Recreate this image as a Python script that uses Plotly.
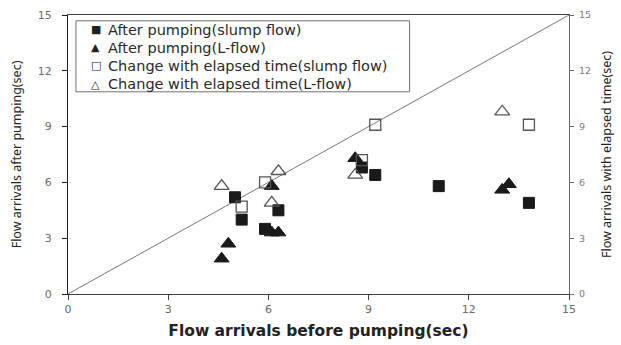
import plotly.graph_objects as go

# Flow arrival times (sec): before pumping (x) vs. after pumping / with elapsed time (y)
slump_after_x = [5.0, 5.2, 5.9, 6.3, 8.8, 9.2, 11.1, 13.8]
slump_after_y = [5.2, 4.0, 3.5, 4.5, 6.8, 6.4, 5.8, 4.9]

lflow_after_x = [4.6, 4.8, 6.1, 6.1, 6.3, 8.6, 13.0, 13.2]
lflow_after_y = [1.9, 2.7, 5.8, 3.3, 3.3, 7.3, 5.6, 5.9]

slump_elapsed_x = [5.2, 5.9, 8.8, 9.2, 13.8]
slump_elapsed_y = [4.7, 6.0, 7.2, 9.1, 9.1]

lflow_elapsed_x = [4.6, 6.1, 6.3, 8.6, 13.0]
lflow_elapsed_y = [5.8, 4.9, 6.6, 6.4, 9.8]

series_names = [
    "After pumping(slump flow)",
    "After pumping(L-flow)",
    "Change with elapsed time(slump flow)",
    "Change with elapsed time(L-flow)",
]
legend_glyphs = ["\u25A0", "\u25B2", "\u25A1", "\u25B3"]

axis_range = [0, 15]
tick_vals = [0, 3, 6, 9, 12, 15]

W, H = 621, 345
ML, MR, MT, MB = 68, 50, 9, 49
PW, PH = W - ML - MR, H - MT - MB


def px_to_paper(px, py):
    return (px - ML) / PW, (H - MB - py) / PH


fig = go.Figure()

# y = x reference line
fig.add_trace(go.Scatter(
    x=axis_range, y=axis_range, mode="lines",
    line=dict(color="#777777", width=1), showlegend=False, hoverinfo="skip"))

dark = "#1a1a1a"
hollow = "#555555"
fig.add_trace(go.Scatter(
    x=slump_after_x, y=slump_after_y, mode="markers", name=series_names[0],
    marker=dict(symbol="square", size=11, color=dark, line=dict(color=dark, width=1))))
fig.add_trace(go.Scatter(
    x=lflow_after_x, y=lflow_after_y, mode="markers", name=series_names[1],
    marker=dict(symbol="triangle-up", size=13, color=dark, line=dict(color=dark, width=1))))
fig.add_trace(go.Scatter(
    x=slump_elapsed_x, y=slump_elapsed_y, mode="markers", name=series_names[2], yaxis="y2",
    marker=dict(symbol="square-open", size=11, color=hollow, line=dict(width=1.3))))
fig.add_trace(go.Scatter(
    x=lflow_elapsed_x, y=lflow_elapsed_y, mode="markers", name=series_names[3], yaxis="y2",
    marker=dict(symbol="triangle-up-open", size=13, color=hollow, line=dict(width=1.3))))

# Boxed legend in the upper-left corner
annotations = []
row_top, row_step = 24, 18.7
for i, (glyph, label) in enumerate(zip(legend_glyphs, series_names)):
    py = row_top + i * row_step
    gx, gy = px_to_paper(96, py)
    tx, _ = px_to_paper(106, py)
    annotations.append(dict(
        text=glyph, x=gx, y=gy, xref="paper", yref="paper",
        xanchor="center", yanchor="middle", showarrow=False,
        font=dict(family="DejaVu Sans", size=11, color="#222222")))
    annotations.append(dict(
        text=label, x=tx, y=gy, xref="paper", yref="paper",
        xanchor="left", yanchor="middle", showarrow=False,
        font=dict(family="DejaVu Sans", size=14.5, color="#2a2a2a")))

bx0, by0 = px_to_paper(76, 88)
bx1, by1 = px_to_paper(411, 15)
shapes = [dict(type="rect", xref="paper", yref="paper",
               x0=bx0, y0=by0, x1=bx1, y1=by1,
               line=dict(color="#707070", width=1), fillcolor="white", layer="above")]

tick_font = dict(family="DejaVu Sans", size=11, color="#6a6a6a")
side_title_font = dict(family="Noto Sans", size=12.5, color="#222222")

fig.update_layout(
    width=W, height=H,
    margin=dict(l=ML, r=MR, t=MT, b=MB),
    paper_bgcolor="white", plot_bgcolor="white",
    showlegend=False,
    annotations=annotations,
    shapes=shapes,
    xaxis=dict(
        range=axis_range, tickvals=tick_vals, showgrid=False, zeroline=False,
        showline=True, linecolor="#404040", linewidth=1, mirror=True,
        ticks="outside", ticklen=5, tickcolor="#404040", tickfont=tick_font,
        title=dict(text="<b>Flow arrivals before pumping(sec)</b>",
                   font=dict(family="DejaVu Sans", size=15.5, color="#222222"),
                   standoff=9)),
    yaxis=dict(
        range=axis_range, tickvals=tick_vals, showgrid=False, zeroline=False,
        showline=True, linecolor="#202020", linewidth=1,
        ticks="outside", ticklen=5, tickcolor="#202020", tickfont=tick_font,
        ticklabelstandoff=8,
        title=dict(text="Flow arrivals after pumping(sec)", font=side_title_font,
                   standoff=13)),
    yaxis2=dict(
        range=axis_range, tickvals=tick_vals, overlaying="y", side="right",
        showgrid=False, zeroline=False,
        showline=True, linecolor="#707070", linewidth=1,
        ticks="outside", ticklen=4, tickcolor="#707070",
        tickfont=dict(family="DejaVu Sans", size=9.5, color="#7a7a7a"),
        ticklabelstandoff=3,
        title=dict(text="Flow arrivals with elapsed time(sec)", font=side_title_font,
                   standoff=12)),
)

fig.write_html("out.html")
